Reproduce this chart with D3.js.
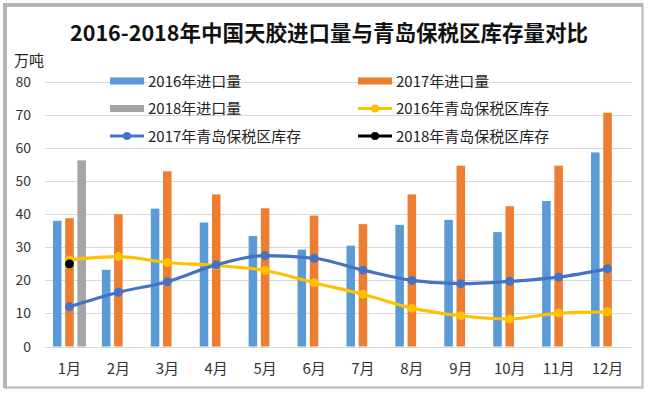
<!DOCTYPE html>
<html>
<head>
<meta charset="utf-8">
<script src="https://cdn.jsdelivr.net/npm/d3@7"></script>
<style>
  body { margin: 0; background: #fff; }
  svg { display: block; font-family: "Noto Sans CJK SC", "Noto Sans", sans-serif; }
</style>
</head>
<body>
<script>
// data (万吨)
var months = ["1月","2月","3月","4月","5月","6月","7月","8月","9月","10月","11月","12月"];
var import2016 = [38, 23.2, 41.7, 37.5, 33.4, 29.3, 30.5, 36.8, 38.3, 34.6, 44, 58.7];
var import2017 = [38.8, 40, 53, 46, 41.8, 39.6, 37, 46, 54.7, 42.4, 54.7, 70.7];
var import2018 = [56.3];
var stock2016 = [26.2, 27.2, 25.4, 24.5, 23, 19.3, 15.8, 11.6, 9.3, 8.3, 10.1, 10.5];
var stock2017 = [12, 16.4, 19.6, 24.7, 27.5, 26.7, 23.1, 20, 19, 19.7, 21, 23.5];
var stock2018 = [25];
var yTicks = [0, 10, 20, 30, 40, 50, 60, 70, 80];

var W = 648, H = 393;
var svg = d3.select("body").append("svg")
    .attr("width", W)
    .attr("height", H);

// frame, a bit heavier on the left/top like the original
svg.append("rect")
    .attr("x", 5.5).attr("y", 5.5)
    .attr("width", 637).attr("height", 382)
    .attr("fill", "#fff")
    .attr("stroke", "#c4c4c4")
    .attr("stroke-width", 2.5);
svg.append("path")
    .attr("d", "M5,388 V5 H643")
    .attr("fill", "none")
    .attr("stroke", "#b5b5b5")
    .attr("stroke-width", 4);

svg.append("text")
    .attr("x", 329).attr("y", 41)
    .attr("text-anchor", "middle")
    .attr("font-size", 21.5)
    .attr("font-weight", "bold")
    .attr("fill", "#111")
    .text("2016-2018年中国天胶进口量与青岛保税区库存量对比");

var x0 = d3.scaleBand().domain(months).range([45, 632]);
var y = d3.scaleLinear().domain([0, 80]).range([346.5, 82]);

var bars = [
    {name: "2016年进口量", values: import2016, color: "#5b9bd5"},
    {name: "2017年进口量", values: import2017, color: "#ed7d31"},
    {name: "2018年进口量", values: import2018, color: "#a5a5a5"}
];
var lines = [
    {name: "2016年青岛保税区库存", values: stock2016, color: "#ffc000"},
    {name: "2017年青岛保税区库存", values: stock2017, color: "#4472c4"},
    {name: "2018年青岛保税区库存", values: stock2018, color: "#000000"}
];

var bw = x0.bandwidth();
var x1 = d3.scaleBand().domain(bars.map(d => d.name))
    .range([bw / 2 - 16.5, bw / 2 + 16.5])
    .paddingInner(0.3);

// grid
svg.append("g").selectAll("line")
    .data(yTicks)
    .join("line")
    .attr("x1", 45).attr("x2", 632)
    .attr("y1", d => Math.round(y(d)) + 0.5)
    .attr("y2", d => Math.round(y(d)) + 0.5)
    .attr("stroke", "#d9d9d9")
    .attr("stroke-width", 1);

svg.append("g").selectAll("text")
    .data(yTicks)
    .join("text")
    .attr("x", 31).attr("y", d => y(d) + 5)
    .attr("text-anchor", "end")
    .attr("font-size", 14)
    .attr("fill", "#333")
    .text(d => d);

svg.append("text")
    .attr("x", 14).attr("y", 66)
    .attr("font-size", 15)
    .attr("fill", "#222")
    .text("万吨");

svg.append("g").selectAll("text")
    .data(months)
    .join("text")
    .attr("x", d => x0(d) + bw / 2)
    .attr("y", 374)
    .attr("text-anchor", "middle")
    .attr("font-size", 15)
    .attr("fill", "#333")
    .text(d => d);

// bars
bars.forEach(function(s) {
    svg.append("g").selectAll("rect")
        .data(s.values)
        .join("rect")
        .attr("x", (d, i) => x0(months[i]) + x1(s.name))
        .attr("y", d => y(d))
        .attr("width", x1.bandwidth())
        .attr("height", d => y(0) - y(d))
        .attr("fill", s.color);
});

// lines (smoothed like the spreadsheet original)
var line = d3.line()
    .x((d, i) => x0(months[i]) + bw / 2)
    .y(d => y(d))
    .curve(d3.curveMonotoneX);

lines.forEach(function(s) {
    svg.append("path")
        .datum(s.values)
        .attr("d", line)
        .attr("fill", "none")
        .attr("stroke", s.color)
        .attr("stroke-width", 3.2);
    svg.append("g").selectAll("circle")
        .data(s.values)
        .join("circle")
        .attr("cx", (d, i) => x0(months[i]) + bw / 2)
        .attr("cy", d => y(d))
        .attr("r", 4.5)
        .attr("fill", s.color);
});

// legend: two columns, three rows, drawn over the grid
var legendItems = [
    {type: "bar", s: bars[0]}, {type: "bar", s: bars[1]},
    {type: "bar", s: bars[2]}, {type: "line", s: lines[0]},
    {type: "line", s: lines[1]}, {type: "line", s: lines[2]}
];
var lg = svg.append("g");
legendItems.forEach(function(it, i) {
    var lx = i % 2 === 0 ? 110 : 358;
    var ly = 81 + Math.floor(i / 2) * 27.5;
    var g = lg.append("g").attr("transform", "translate(" + lx + "," + ly + ")");
    if (it.type === "bar") {
        g.append("rect").attr("x", 0).attr("y", -3.5).attr("width", 34).attr("height", 7).attr("fill", it.s.color);
    } else {
        g.append("line").attr("x1", 0).attr("x2", 34).attr("y1", 0).attr("y2", 0)
            .attr("stroke", it.s.color).attr("stroke-width", 3.2);
        g.append("circle").attr("cx", 17).attr("cy", 0).attr("r", 4).attr("fill", it.s.color);
    }
    g.append("text").attr("x", 38).attr("y", 5.5)
        .attr("font-size", 15)
        .attr("fill", "#222")
        .text(it.s.name);
});
</script>
</body>
</html>
